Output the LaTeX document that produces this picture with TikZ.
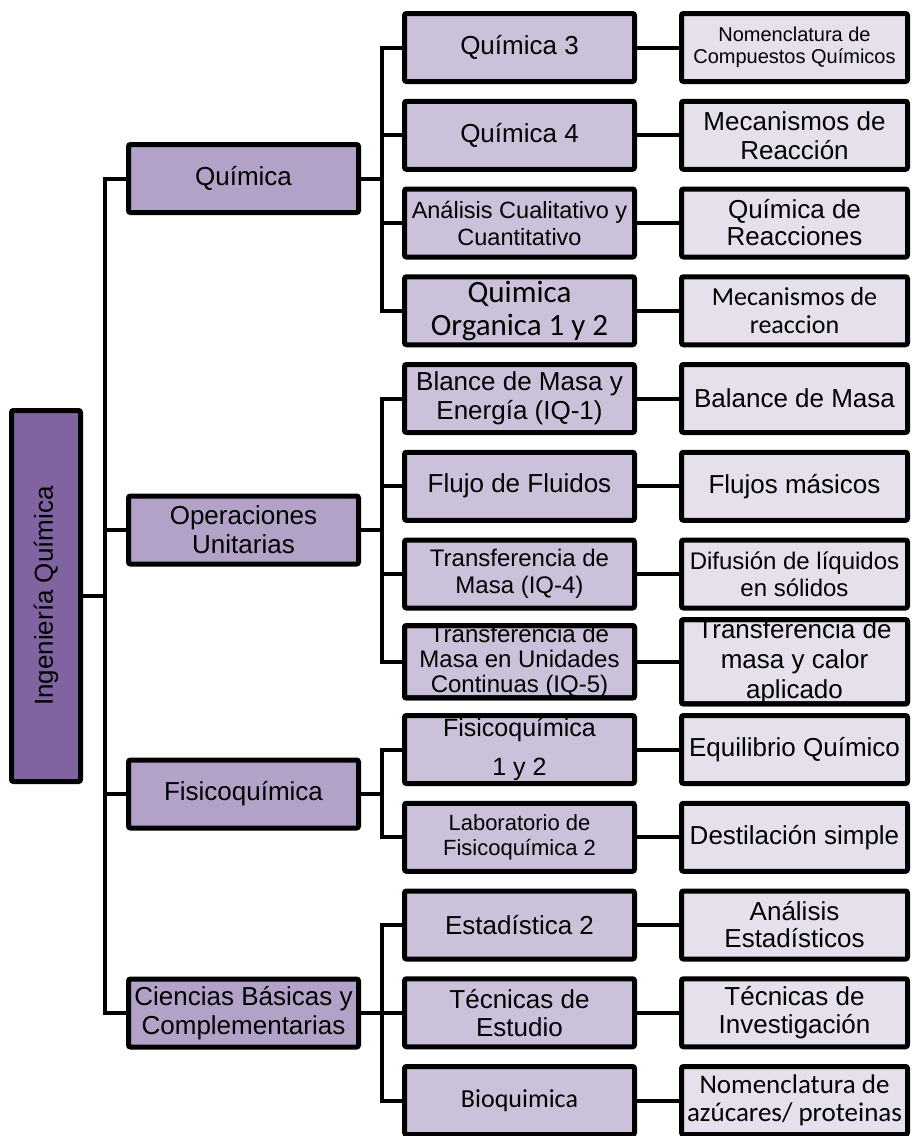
\documentclass[tikz,border=0pt]{standalone}
\usepackage{fontspec}
\setmainfont{Liberation Sans}
\newfontfamily\calib{Carlito}
\usetikzlibrary{positioning}

\definecolor{rootfill}{HTML}{8064A2}
\definecolor{lvonefill}{HTML}{B2A2C7}
\definecolor{lvtwofill}{HTML}{CCC1DA}
\definecolor{lvthreefill}{HTML}{E5E0EC}

\newcommand{\fsz}[2]{\fontsize{#1}{#2}\selectfont}

\tikzset{
    box/.style={draw=black, line width=5pt, rounded corners=2pt, inner sep=0pt, outer sep=0pt, align=center, font=\fsz{26}{29}},
    lvzero/.style={box, fill=rootfill, minimum width=69pt, minimum height=371pt},
    lvone/.style={box, fill=lvonefill, minimum width=230pt, minimum height=68pt},
    lvtwo/.style={box, fill=lvtwofill, minimum width=230pt, minimum height=68pt},
    lvthree/.style={box, fill=lvthreefill, minimum width=226pt, minimum height=68pt},
    conn/.style={line width=4pt},
    reborde/.style={draw=black, line width=5pt, rounded corners=2pt}
}

\begin{document}
\begin{tikzpicture}[x=1pt, y=-1pt]
            \useasboundingbox (0,0) rectangle (911,1136);

            % raiz y areas
            \node[lvzero] (root) at (46,596) {\rotatebox{90}{Ingeniería Química}};
            \node[lvone] (quim) at (243.5,178.5) {Química};
            \node[lvone] (oper) at (243.5,530) {Operaciones\\Unitarias};
            \node[lvone] (fisi) at (243.5,794) {Fisicoquímica};
            \node[lvone] (cien) at (243.5,1013) {Ciencias Básicas y\\Complementarias};

            % asignaturas
            \node[lvtwo] (asig0) at (519.5,47.5) {Química 3};
            \node[lvtwo] (asig1) at (519.5,135.25) {Química 4};
            \node[lvtwo, font=\fsz{23.5}{27}] (asig2) at (519.5,223) {Análisis Cualitativo y\\Cuantitativo};
            \node[lvtwo, font=\calib\fsz{31}{33}] (asig3) at (519.5,310.75) {Quimica\\Organica 1 y 2};
            \node[lvtwo] (asig4) at (519.5,398.5) {Blance de Masa y\\Energía (IQ-1)};
            \node[lvtwo] (asig5) at (519.5,486.25) {Flujo de Fluidos};
            \node[lvtwo, font=\fsz{24}{27}] (asig6) at (519.5,574) {Transferencia de\\Masa (IQ-4)};
            \node[lvtwo, font=\fsz{24}{25}] (asig7) at (519.5,661.75) {Transferencia de\\Masa en Unidades\\Continuas (IQ-5)};
            \node[lvtwo, font=\fsz{25}{39}] (asig8) at (519.5,749.5) {Fisicoquímica\\1 y 2};
            \node[lvtwo, font=\fsz{22}{25}] (asig9) at (519.5,837.25) {Laboratorio de\\Fisicoquímica 2};
            \node[lvtwo] (asig10) at (519.5,925) {Estadística 2};
            \node[lvtwo, font=\fsz{26}{28}] (asig11) at (519.5,1012.75) {Técnicas de\\Estudio};
            \node[lvtwo, font=\calib\fsz{26}{29}] (asig12) at (519.5,1100.5) {Bioquimica};

            % temas
            \node[lvthree, font=\fsz{20}{22}] (tema0) at (794.5,47.5) {Nomenclatura de\\Compuestos Químicos};
            \node[lvthree] (tema1) at (794.5,135.25) {Mecanismos de\\Reacción};
            \node[lvthree, font=\fsz{26}{27}] (tema2) at (794.5,223) {Química de\\Reacciones};
            \node[lvthree, font=\calib\fsz{26}{28}] (tema3) at (794.5,310.75) {Mecanismos de\\reaccion};
            \node[lvthree] (tema4) at (794.5,398.5) {Balance de Masa};
            \node[lvthree] (tema5) at (794.5,486.25) {Flujos másicos};
            \node[lvthree, font=\fsz{24}{27}] (tema6) at (794.5,574) {Difusión de líquidos\\en sólidos};
            \node[lvthree, font=\fsz{26}{30}] (tema7) at (794.5,661.75) {Transferencia de\\masa y calor\\aplicado};
            \node[lvthree] (tema8) at (794.5,749.5) {Equilibrio Químico};
            \node[lvthree] (tema9) at (794.5,837.25) {Destilación simple};
            \node[lvthree, font=\fsz{26}{27}] (tema10) at (794.5,925) {Análisis\\Estadísticos};
            \node[lvthree, font=\fsz{26}{28}] (tema11) at (794.5,1012.75) {Técnicas de\\Investigación};
            \node[lvthree, font=\calib\fsz{27}{28}] (tema12) at (794.5,1100.5) {Nomenclatura de\\azúcares/ proteinas};

            % el texto que se sale queda bajo el borde
            \draw[reborde] (asig7.south west) rectangle (asig7.north east);
            \draw[reborde] (tema7.south west) rectangle (tema7.north east);

            % conectores
            \foreach \c in {quim,oper,fisi,cien}
                \draw[conn] (root.east) -- ++(24.5,0) |- (\c.west);
            \foreach \c in {asig0,asig1,asig2,asig3}
                \draw[conn] (quim.east) -- ++(23.5,0) |- (\c.west);
            \foreach \c in {asig4,asig5,asig6,asig7}
                \draw[conn] (oper.east) -- ++(23.5,0) |- (\c.west);
            \foreach \c in {asig8,asig9}
                \draw[conn] (fisi.east) -- ++(23.5,0) |- (\c.west);
            \foreach \c in {asig10,asig11,asig12}
                \draw[conn] (cien.east) -- ++(23.5,0) |- (\c.west);
            \foreach \i in {0,...,12}
                \draw[conn] (asig\i.east) -- (tema\i.west);
\end{tikzpicture}
\end{document}
